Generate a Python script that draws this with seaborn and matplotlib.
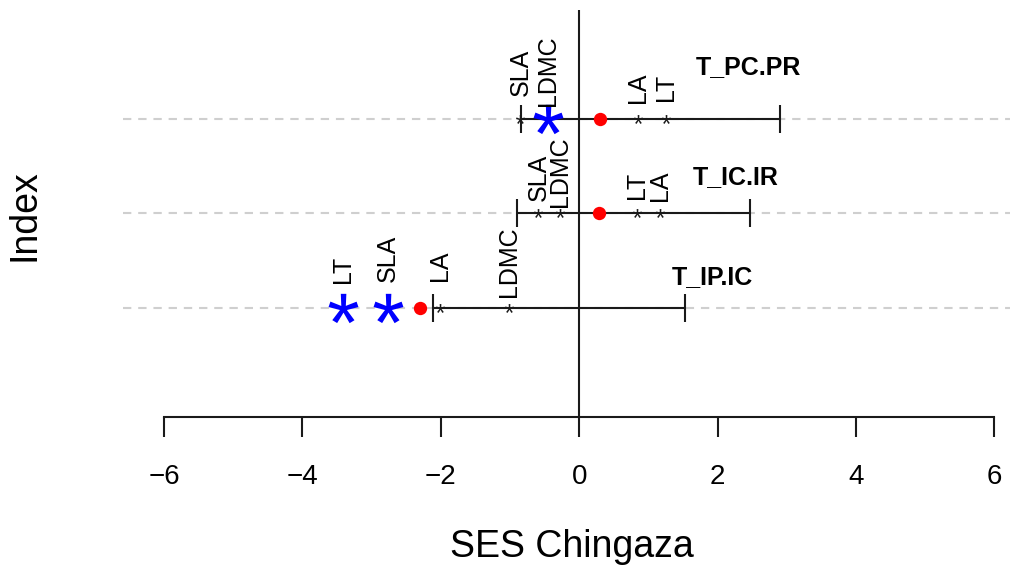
import numpy as np
import pandas as pd
import matplotlib
matplotlib.use("Agg")
import matplotlib.pyplot as plt
import seaborn as sns
from matplotlib.textpath import TextPath
from matplotlib.font_manager import FontProperties
from matplotlib.path import Path

# ---------------- data ----------------
indices = ["T_IP.IC", "T_IC.IR", "T_PC.PR"]          # rows 1, 2, 3 (bottom -> top)
row_pos = [1, 2, 3]
observed = [-2.30, 0.29, 0.30]                        # red dots
lower = [-2.12, -0.90, -0.84]
upper = [1.53, 2.47, 2.90]

traits = ["LA", "LDMC", "LT", "SLA"]
ses_ip_ic = [-2.01, -1.02, -3.41, -2.77]
ses_ic_ir = [1.16, -0.28, 0.83, -0.59]
ses_pc_pr = [0.85, -0.45, 1.26, -0.85]
sig_ip_ic = [False, False, True, True]
sig_ic_ir = [False, False, False, False]
sig_pc_pr = [False, True, False, False]

xticks = [-6, -4, -2, 0, 2, 4, 6]

# ---------------- layout (label placement) ----------------
label_offsets = {  # vertical offset of the rotated trait labels (data units)
    "T_IP.IC": {"LA": 0.45, "LDMC": 0.49, "LT": 0.41, "SLA": 0.525},
    "T_IC.IR": {"LA": 0.295, "LDMC": 0.445, "LT": 0.295, "SLA": 0.385},
    "T_PC.PR": {"LA": 0.335, "LDMC": 0.52, "LT": 0.335, "SLA": 0.50},
}
title_pos = {"T_IP.IC": (1.92, 1.33), "T_IC.IR": (2.26, 2.385), "T_PC.PR": (2.45, 3.555)}

rows = []
for name, y, vals, sig in [("T_IP.IC", 1, ses_ip_ic, sig_ip_ic),
                           ("T_IC.IR", 2, ses_ic_ir, sig_ic_ir),
                           ("T_PC.PR", 3, ses_pc_pr, sig_pc_pr)]:
    for t, v, s in zip(traits, vals, sig):
        rows.append({"index": name, "y": y, "trait": t, "ses": v, "sig": s})
df = pd.DataFrame(rows)
summ = pd.DataFrame({"index": indices, "y": row_pos, "obs": observed,
                     "lo": lower, "hi": upper})

# ---------------- style ----------------
sns.set_theme(style="white")
plt.rcParams["font.family"] = ["Liberation Sans", "DejaVu Sans"]
plt.rcParams["axes.unicode_minus"] = True
plt.rcParams["text.color"] = "black"
plt.rcParams["axes.labelcolor"] = "black"
plt.rcParams["xtick.color"] = "black"

fig = plt.figure(figsize=(10.10, 5.68), dpi=100)
ax = fig.add_axes([123 / 1010, 1 - 417 / 568, 897 / 1010, 407 / 568])
ax.set_xlim(-6.594, 6.369)
ax.set_ylim(-0.16, 4.16)

# asterisk marker from the font glyph, centred
tp = TextPath((0, 0), "*", size=1, prop=FontProperties(family="Liberation Sans"))
codes = np.array(tp.codes)
verts = np.array(tp.vertices, dtype=float)
real = codes != Path.CLOSEPOLY
cx = (verts[real, 0].min() + verts[real, 0].max()) / 2
cy = (verts[real, 1].min() + verts[real, 1].max()) / 2
verts[:, 0] -= cx
verts[:, 1] -= cy
verts[~real] = 0.0
star = Path(verts, codes)

dark = "#1a1a1a"
# dashed guide lines
for y in row_pos:
    ax.axhline(y, color="#cfcfcf", lw=1.5, dashes=(4, 3.3), zorder=0)
# zero line
ax.axvline(0, color=dark, lw=1.5, zorder=1)

# intervals with caps
ax.hlines(summ["y"], summ["lo"], summ["hi"], color=dark, lw=1.5, zorder=2)
ax.scatter(summ["lo"], summ["y"], marker="|", s=19.5 ** 2, color=dark, linewidths=1.5, zorder=2)
ax.scatter(summ["hi"], summ["y"], marker="|", s=19.5 ** 2, color=dark, linewidths=1.5, zorder=2)

# trait stars
ns = df[~df["sig"]]
sg = df[df["sig"]]
sns.scatterplot(data=ns, x="ses", y="y", marker=star, s=6.5 ** 2, color=dark,
                linewidth=0, ax=ax, zorder=3, legend=False)
sns.scatterplot(data=sg, x="ses", y="y", marker=star, s=21.5 ** 2, color="#0000ff",
                linewidth=0, ax=ax, zorder=4, legend=False)
# observed
sns.scatterplot(data=summ, x="obs", y="y", marker="o", s=9.6 ** 2, color="#ff0000",
                linewidth=0, ax=ax, zorder=5, legend=False)

# trait labels
for _, r in df.iterrows():
    ax.text(r["ses"], r["y"] + label_offsets[r["index"]][r["trait"]], r["trait"],
            rotation=90, ha="center", va="center", fontsize=18, color="black", zorder=6)
# index titles
for name in indices:
    x, y = title_pos[name]
    ax.text(x, y, name, ha="center", va="center", fontsize=18, fontweight="bold",
            color="black", zorder=6)

# axes
for sp in ["top", "right", "left"]:
    ax.spines[sp].set_visible(False)
ax.spines["bottom"].set_bounds(-6, 6)
ax.spines["bottom"].set_color(dark)
ax.spines["bottom"].set_linewidth(1.5)
ax.set_xticks(xticks)
ax.set_xticklabels([str(t).replace("-", "\u2212") for t in xticks])
ax.tick_params(axis="x", direction="out", length=14.4, width=1.5, color=dark,
               labelsize=20, pad=19.5, bottom=True, labelcolor="black")
ax.set_yticks([])
ax.set_xlabel("SES Chingaza", fontsize=27, color="black")
ax.set_ylabel("Index", fontsize=27, color="black")
ax.xaxis.label.set_va("center")
ax.yaxis.label.set_va("center")
ax.xaxis.set_label_coords((572 - 123) / 897, (417 - 547) / 407)
ax.yaxis.set_label_coords((24 - 123) / 897, (417 - 215) / 407)

fig.savefig("out.png", dpi=100)
